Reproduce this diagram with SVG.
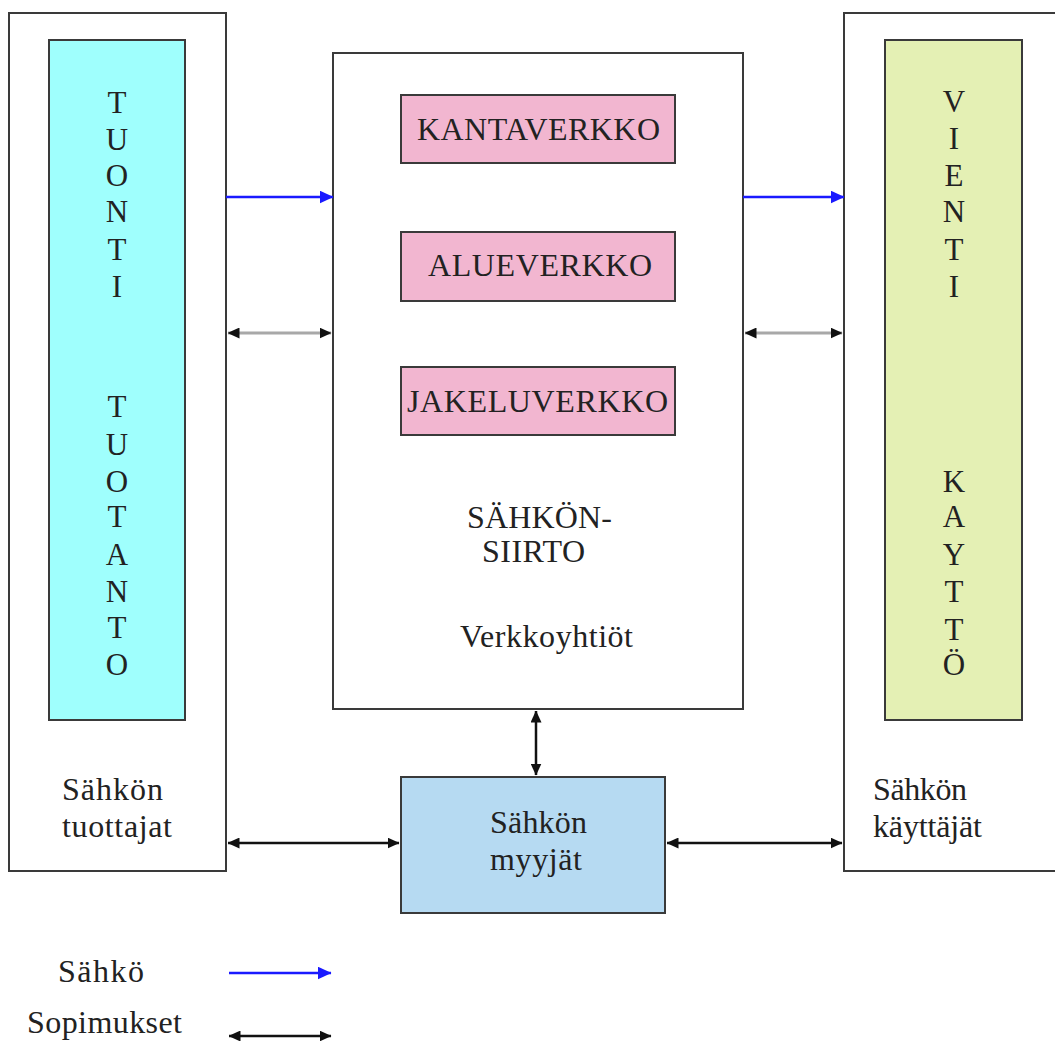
<svg xmlns="http://www.w3.org/2000/svg" width="1055" height="1041" viewBox="0 0 1055 1041">
<defs>
<style>
.box{fill:#ffffff;stroke:#3a3a3a;stroke-width:2}
.inner{stroke:#3a3a3a;stroke-width:2}
.t{font-family:"Liberation Serif","Times New Roman",serif;font-size:32px;fill:#222}
.v{font-family:"Liberation Serif","Times New Roman",serif;font-size:31px;fill:#222;text-anchor:middle}
.blue{stroke:#1a1aff;stroke-width:2.5;fill:none}
.blk{stroke:#111;stroke-width:2.5;fill:none}
.gry{stroke:#a8a8a8;stroke-width:3;fill:none}
</style>
<marker id="ab" viewBox="0 0 14 13" refX="13.5" refY="6.5" markerWidth="14" markerHeight="13" markerUnits="userSpaceOnUse" orient="auto">
<path d="M0,0 L14,6.5 L0,13 Z" fill="#1a1aff"/>
</marker>
<marker id="ak" viewBox="0 0 12 11" refX="11.5" refY="5.5" markerWidth="12" markerHeight="11" markerUnits="userSpaceOnUse" orient="auto-start-reverse">
<path d="M0,0 L12,5.5 L0,11 Z" fill="#111"/>
</marker>
</defs>
<rect width="1055" height="1041" fill="#ffffff"/>

<g id="tuottajat">
<rect class="box" x="9" y="13" width="217" height="858"/>
<rect class="inner" x="49" y="40" width="136" height="680" fill="#9ffffd"/>
<text class="v" x="117" y="113">T</text>
<text class="v" x="117" y="150">U</text>
<text class="v" x="117" y="186">O</text>
<text class="v" x="117" y="222">N</text>
<text class="v" x="117" y="260">T</text>
<text class="v" x="117" y="297">I</text>
<text class="v" x="117" y="417">T</text>
<text class="v" x="117" y="455">U</text>
<text class="v" x="117" y="492">O</text>
<text class="v" x="117" y="527">T</text>
<text class="v" x="117" y="565">A</text>
<text class="v" x="117" y="602">N</text>
<text class="v" x="117" y="638">T</text>
<text class="v" x="117" y="675">O</text>
<text class="t" x="62" y="800" textLength="101">Sähkön</text>
<text class="t" x="62" y="837" textLength="110">tuottajat</text>
</g>

<g id="kayttajat">
<rect class="box" x="844" y="13" width="220" height="858"/>
<rect class="inner" x="885" y="40" width="137" height="680" fill="#e4f0b4"/>
<text class="v" x="954" y="112">V</text>
<text class="v" x="954" y="149">I</text>
<text class="v" x="954" y="186">E</text>
<text class="v" x="954" y="222">N</text>
<text class="v" x="954" y="260">T</text>
<text class="v" x="954" y="297">I</text>
<text class="v" x="954" y="492">K</text>
<text class="v" x="954" y="527">A</text>
<text class="v" x="954" y="565">Y</text>
<text class="v" x="954" y="602">T</text>
<text class="v" x="954" y="640">T</text>
<text class="v" x="954" y="675">Ö</text>
<text class="t" x="873" y="800" textLength="94">Sähkön</text>
<text class="t" x="873" y="837" textLength="109">käyttäjät</text>
</g>

<g id="sahkonsiirto">
<rect class="box" x="333" y="53" width="410" height="656"/>
<text class="t" x="467" y="528" textLength="145">SÄHKÖN-</text>
<text class="t" x="482" y="562" textLength="103">SIIRTO</text>
<text class="t" x="460" y="647" textLength="173">Verkkoyhtiöt</text>
</g>

<g id="kantaverkko">
<rect class="inner" x="401" y="95" width="274" height="68" fill="#f2b6d0"/>
<text class="t" x="417" y="140" textLength="243">KANTAVERKKO</text>
</g>
<g id="alueverkko">
<rect class="inner" x="401" y="232" width="274" height="69" fill="#f2b6d0"/>
<text class="t" x="428" y="276" textLength="224">ALUEVERKKO</text>
</g>
<g id="jakeluverkko">
<rect class="inner" x="401" y="367" width="274" height="68" fill="#f2b6d0"/>
<text class="t" x="407" y="412" textLength="261">JAKELUVERKKO</text>
</g>

<g id="myyjat">
<rect class="inner" x="401" y="777" width="264" height="136" fill="#b6daf2"/>
<text class="t" x="490" y="833" textLength="97">Sähkön</text>
<text class="t" x="490" y="870" textLength="92">myyjät</text>
</g>

<g id="connectors">
<line class="blue" x1="226" y1="197" x2="333" y2="197" marker-end="url(#ab)"/>
<line class="blue" x1="743" y1="197" x2="844" y2="197" marker-end="url(#ab)"/>
<line class="gry" x1="228" y1="333" x2="331" y2="333" marker-start="url(#ak)" marker-end="url(#ak)"/>
<line class="gry" x1="745" y1="333" x2="842" y2="333" marker-start="url(#ak)" marker-end="url(#ak)"/>
<line class="blk" x1="536" y1="711" x2="536" y2="775" marker-start="url(#ak)" marker-end="url(#ak)"/>
<line class="blk" x1="228" y1="843" x2="399" y2="843" marker-start="url(#ak)" marker-end="url(#ak)"/>
<line class="blk" x1="667" y1="843" x2="842" y2="843" marker-start="url(#ak)" marker-end="url(#ak)"/>
</g>

<g id="legend">
<text class="t" x="58" y="982" textLength="86">Sähkö</text>
<line class="blue" x1="229" y1="973" x2="331" y2="973" marker-end="url(#ab)"/>
<text class="t" x="27" y="1033" textLength="155">Sopimukset</text>
<line class="blk" x1="229" y1="1036" x2="331" y2="1036" marker-start="url(#ak)" marker-end="url(#ak)"/>
</g>
</svg>
